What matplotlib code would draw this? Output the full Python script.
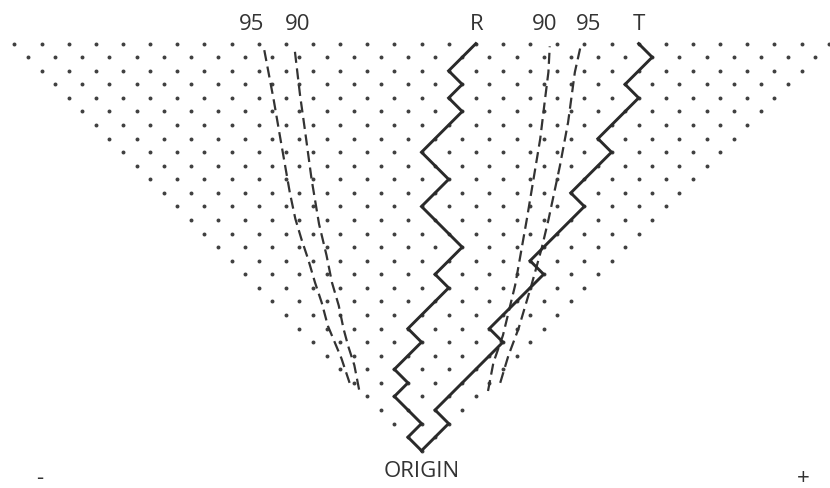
import numpy as np
import matplotlib.pyplot as plt

# random walk lattice: 30 steps, each step one unit left or right
n_steps = 30

# position of each walk after step n (n = 0..30)
walk_R = [0, -1, 0, -1, -2, -1, -2, -1, 0, -1, 0, 1, 2, 1, 2, 3,
          2, 1, 0, 1, 2, 1, 0, 1, 2, 3, 2, 3, 2, 3, 4]
walk_T = [0, 1, 2, 1, 2, 3, 4, 5, 6, 5, 6, 7, 8, 9, 8, 9,
          10, 11, 12, 11, 12, 13, 14, 13, 14, 15, 16, 15, 16, 17, 16]

# dashed limit curves (step n, position x)
left95_n = [5.0, 6.8, 8.0, 9.2, 10.9, 12.4, 14.1, 15.6, 17.1, 19.0, 21.0, 23.0, 25.9, 29.6]
left95_x = [-5.3, -5.9, -6.4, -6.9, -7.35, -7.85, -8.35, -8.85, -9.3, -9.7, -10.05, -10.4, -10.9, -11.6]
left90_n = [4.5, 6.3, 7.7, 9.0, 10.7, 12.4, 14.4, 16.7, 20.0, 23.7, 26.2, 29.6]
left90_x = [-4.6, -4.95, -5.4, -5.75, -6.1, -6.6, -7.0, -7.55, -8.1, -8.6, -8.95, -9.35]
right90_n = [4.4, 6.5, 8.5, 12.2, 17.0, 20.0, 23.0, 25.9, 27.9, 29.8]
right90_x = [4.9, 5.3, 6.0, 6.9, 7.75, 8.25, 8.75, 9.1, 9.35, 9.45]
right95_n = [5.0, 7.0, 9.0, 12.2, 14.9, 17.0, 21.0, 24.2, 27.9, 29.7]
right95_x = [5.8, 6.4, 7.15, 8.1, 8.85, 9.35, 10.2, 10.8, 11.3, 11.7]

# labels above the top row
top_labels = ['95', '90', 'R', '90', '95', 'T']
top_label_x = [-12.5, -9.1, 4.1, 9.1, 12.3, 16.0]

fig = plt.figure(figsize=(8.3, 4.89), dpi=100)
ax = fig.add_axes([0, 0, 1, 1])
ax.set_xlim(-31.06, 30.10)
ax.set_ylim(-2.75, 33.29)
ax.axis('off')

# lattice points of the triangle
pts_x, pts_y = [], []
for n in range(n_steps + 1):
    for x in range(-n, n + 1, 2):
        pts_x.append(x)
        pts_y.append(n)
ax.scatter(pts_x, pts_y, s=8, color='#404040', linewidths=0, zorder=1)

steps = np.arange(n_steps + 1)
for walk in (walk_R, walk_T):
    ax.plot(walk, steps, color='#2a2a2a', lw=2.1,
            solid_joinstyle='miter', zorder=3)

for xs, ns in ((left95_x, left95_n), (left90_x, left90_n),
               (right90_x, right90_n), (right95_x, right95_n)):
    ax.plot(xs, ns, color='#333333', lw=1.6, dashes=(5, 2.5), zorder=2)

font = dict(family='Open Sans', fontsize=16, color='#333333')
for lab, lx in zip(top_labels, top_label_x):
    ax.text(lx, 31.5, lab, ha='center', va='center', **font)

ax.text(0.0, -1.45, 'ORIGIN', ha='center', va='center', **font)
ax.text(-28.1, -2.0, '-', ha='center', va='center', **font)
ax.text(28.1, -2.0, '+', ha='center', va='center', **font)

fig.savefig('out.png', dpi=100)
